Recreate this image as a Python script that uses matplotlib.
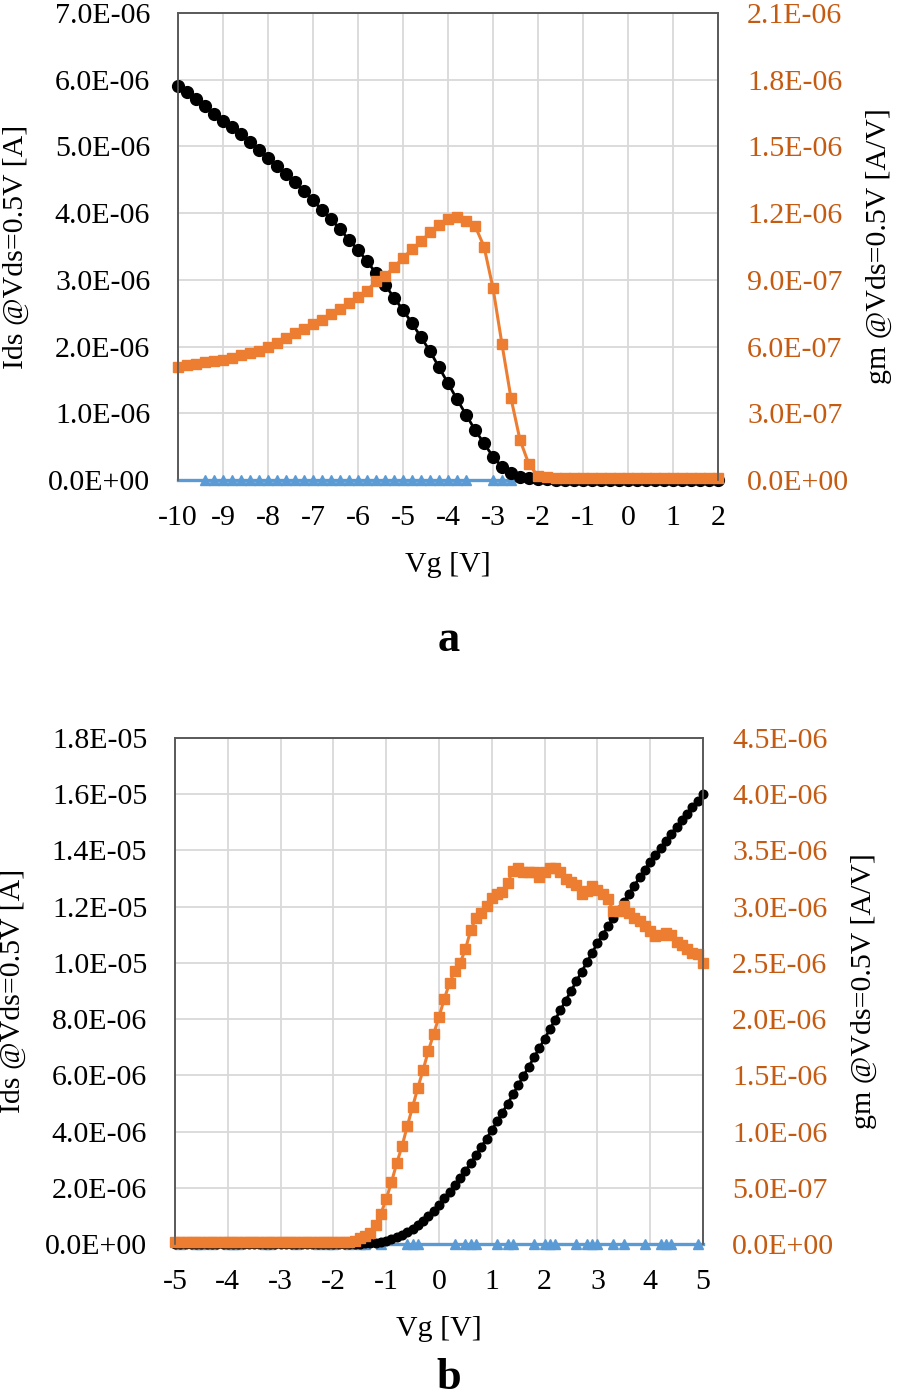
import numpy as np
import matplotlib
matplotlib.use("Agg")
import matplotlib.pyplot as plt
from matplotlib.ticker import FuncFormatter, MultipleLocator

plt.rcParams["font.family"] = ["Liberation Serif", "DejaVu Serif"]
plt.rcParams["axes.unicode_minus"] = False

BLACK = "#000000"; ORANGE = "#ED7D31"; BLUE = "#5B9BD5"
ORT = "#C55A11"; GRID = "#D9D9D9"; SPINE = "#595959"
FS = 21.5

# ---- panel a : Vg sweep -10..2 V, 0.2 V step ----
vg_a = np.linspace(-10, 2, 61)
ids_a = [5.91, 5.81, 5.71, 5.61, 5.49, 5.38, 5.29, 5.18, 5.07, 4.94,
         4.83, 4.71, 4.59, 4.46, 4.33, 4.19, 4.05, 3.91, 3.76, 3.60,
         3.45, 3.28, 3.10, 2.93, 2.73, 2.55, 2.35, 2.14, 1.93, 1.69,
         1.45, 1.21, 0.98, 0.75, 0.55, 0.35, 0.20, 0.10, 0.05, 0.025,
         0.012, 0.008, 0.006, 0.005, 0.004, 0.004, 0.003, 0.003, 0.003, 0.003,
         0.003, 0.003, 0.003, 0.003, 0.003, 0.003, 0.003, 0.003, 0.003, 0.003,
         0.003]  # E-6 A
gm_a = [0.510, 0.517, 0.523, 0.530, 0.534, 0.540, 0.549, 0.560, 0.570, 0.582,
        0.600, 0.617, 0.639, 0.660, 0.680, 0.700, 0.721, 0.746, 0.770, 0.798,
        0.825, 0.852, 0.893, 0.918, 0.957, 0.998, 1.038, 1.073, 1.113, 1.148,
        1.173, 1.182, 1.163, 1.143, 1.050, 0.863, 0.610, 0.368, 0.180, 0.070,
        0.018, 0.012, 0.010, 0.009, 0.008, 0.008, 0.007, 0.007, 0.007, 0.007,
        0.007, 0.007, 0.007, 0.007, 0.007, 0.007, 0.008, 0.007, 0.007, 0.007,
        0.007]  # E-6 A/V
blue_a = [-9.4, -9.2, -9.0, -8.8, -8.6, -8.4, -8.2, -8.0, -7.8, -7.6,
          -7.4, -7.2, -7.0, -6.8, -6.6, -6.4, -6.2, -6.0, -5.8, -5.6,
          -5.4, -5.2, -5.0, -4.8, -4.6, -4.4, -4.2, -4.0, -3.8, -3.6,
          -3.0, -2.8, -2.6]

# ---- panel b : Vg sweep -5..5 V, 0.1 V step ----
vg_b = np.linspace(-5, 5, 101)
ids_b = [0.002] * 35 + [
    0.01, 0.02, 0.03, 0.05, 0.08, 0.12, 0.17, 0.24, 0.33, 0.43,
    0.55, 0.68, 0.83, 1.00, 1.19, 1.40, 1.62, 1.85, 2.09, 2.34,
    2.60, 2.87, 3.16, 3.45, 3.75, 4.05, 4.36, 4.67, 4.99, 5.32,
    5.65, 5.98, 6.31, 6.64, 6.97,
    7.30, 7.64, 7.98, 8.32, 8.66, 9.00, 9.34, 9.68, 10.02, 10.36,
    10.70, 11.00, 11.30, 11.59, 11.88, 12.17, 12.46, 12.75, 13.04, 13.32,
    13.60, 13.85, 14.10, 14.35, 14.60, 14.85, 15.08, 15.31, 15.54, 15.77,
    16.00]  # E-6 A
gm_b = [0.02] * 34 + [
    0.03, 0.05, 0.07, 0.10, 0.17, 0.27, 0.40, 0.55, 0.72, 0.87,
    1.05, 1.22, 1.39, 1.55, 1.72, 1.87, 2.02, 2.18, 2.32, 2.43,
    2.50, 2.62, 2.79, 2.90, 2.94, 3.01, 3.08, 3.11, 3.13, 3.21,
    3.32, 3.34, 3.31, 3.31, 3.31, 3.26, 3.31, 3.34, 3.34, 3.31,
    3.25, 3.22, 3.19, 3.11, 3.14, 3.18, 3.15, 3.11, 3.07, 2.96,
    2.96, 3.01, 2.94, 2.90, 2.87, 2.83, 2.78, 2.74, 2.75, 2.77,
    2.75, 2.69, 2.66, 2.62, 2.59, 2.58, 2.50]  # E-6 A/V
blue_b = [-4.9, -4.6, -4.5, -4.3, -4.0, -3.9, -3.8, -3.3, -3.2, -2.7,
          -2.3, -2.1, -2.0, -1.7, -1.5, -1.4, -1.1, -0.6, -0.5, -0.4,
          0.3, 0.5, 0.6, 0.7, 1.1, 1.3, 1.4, 1.8, 2.0, 2.1,
          2.2, 2.6, 2.8, 2.9, 3.0, 3.3, 3.5, 3.9, 4.2, 4.3,
          4.4, 4.9]

fmt = FuncFormatter(lambda v, p: f"{v:.1E}")


def panel(rect, vg, ids, gm, blue_x, xlim, y1, y2, ms_dot, ms_sq):
    ax = fig.add_axes(rect)
    ax2 = ax.twinx()
    ax.plot(xlim, [0, 0], color=BLUE, lw=2.4, zorder=3, clip_on=False)
    ax.plot(blue_x, [0] * len(blue_x), ls="none", marker="^", ms=7,
            color=BLUE, zorder=3, clip_on=False)
    ax.plot(vg, np.array(ids) * 1e-6, color=BLACK, lw=2, marker="o",
            ms=ms_dot, zorder=4, clip_on=False)
    ax2.plot(vg, np.array(gm) * 1e-6, color=ORANGE, lw=2.2, marker="s",
             ms=ms_sq, clip_on=False)
    ax.set_xlim(*xlim)
    ax.set_ylim(0, y1[0]); ax2.set_ylim(0, y2[0])
    ax.xaxis.set_major_locator(MultipleLocator(1))
    ax.yaxis.set_major_locator(MultipleLocator(y1[1]))
    ax2.yaxis.set_major_locator(MultipleLocator(y2[1]))
    ax.yaxis.set_major_formatter(fmt); ax2.yaxis.set_major_formatter(fmt)
    ax.grid(True, color=GRID, lw=1.3); ax.set_axisbelow(True)
    ax.tick_params(axis="both", length=0, labelsize=FS)
    ax.tick_params(axis="y", pad=20)
    ax.tick_params(axis="x", pad=18)
    ax2.tick_params(axis="y", length=0, labelsize=FS, pad=21, labelcolor=ORT)
    for a_ in (ax, ax2):
        for s in a_.spines.values():
            s.set_color(SPINE); s.set_linewidth(1.2)
        a_.spines["bottom"].set_visible(False)
    ax.set_xlabel("Vg [V]", fontsize=FS, labelpad=15)
    ax.set_ylabel("Ids @Vds=0.5V [A]", fontsize=FS, labelpad=14)
    ax2.set_ylabel("gm @Vds=0.5V [A/V]", fontsize=FS, labelpad=12,
                   rotation=90)
    return ax, ax2


fig = plt.figure(figsize=(8.98, 13.96), dpi=100)

panel([178 / 898, 1 - 480 / 1396, 540 / 898, 467 / 1396],
      vg_a, ids_a, gm_a, blue_a, (-10, 2), (7e-6, 1e-6), (2.1e-6, 3e-7), 8.5, 7.0)
fig.text(449 / 898, 1 - 640 / 1396, "a", fontsize=32, fontweight="bold",
         ha="center", va="center")

panel([175 / 898, 1 - 1244 / 1396, 528 / 898, 506 / 1396],
      vg_b, ids_b, gm_b, blue_b, (-5, 5), (1.8e-5, 2e-6), (4.5e-6, 5e-7), 6.2, 7.0)
fig.text(449 / 898, 1 - 1378 / 1396, "b", fontsize=32, fontweight="bold",
         ha="center", va="center")

fig.savefig("out.png", dpi=100)
